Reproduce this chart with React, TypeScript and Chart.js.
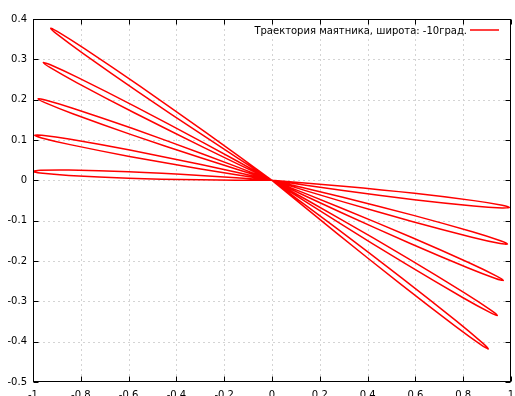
import React, { useEffect, useRef } from "react";
import { Chart, registerables } from "chart.js";

Chart.register(...registerables);

// ---- axis ticks ----
const xTickValues = [-1, -0.8, -0.6, -0.4, -0.2, 0, 0.2, 0.4, 0.6, 0.8, 1];
const xTickLabels = ["-1", "-0.8", "-0.6", "-0.4", "-0.2", "0", "0.2", "0.4", "0.6", "0.8", "1"];
const yTickValues = [-0.5, -0.4, -0.3, -0.2, -0.1, 0, 0.1, 0.2, 0.3, 0.4];
const yTickLabels = ["-0.5", "-0.4", "-0.3", "-0.2", "-0.1", "0", "0.1", "0.2", "0.3", "0.4"];

const legendLabel = "Траектория маятника, широта: -10град.";

// ---- trajectory, one swing (origin -> tip -> origin) per array ----
type P = [number, number];
const swing1: P[] = [[0, 0], [-0.3001, 0.0012], [-0.6002, 0.0052], [-0.8502, 0.012], [-0.9701, 0.0179], [-1.0, 0.022], [-0.9699, 0.0247], [-0.8499, 0.0254], [-0.5998, 0.0212], [-0.2999, 0.012]];
const swing2: P[] = [[0, 0], [0.2983, -0.0147], [0.5963, -0.0322], [0.8445, -0.0503], [0.9634, -0.0616], [0.993, -0.067], [0.963, -0.0684], [0.8436, -0.0637], [0.5953, -0.0482], [0.2975, -0.0255]];
const swing3: P[] = [[0, 0], [-0.2985, 0.0282], [-0.5967, 0.0593], [-0.8448, 0.0885], [-0.9636, 0.1052], [-0.993, 0.112], [-0.9628, 0.112], [-0.8433, 0.1019], [-0.5949, 0.0751], [-0.2973, 0.039]];
const swing4: P[] = [[0, 0], [0.2964, -0.042], [0.5923, -0.0869], [0.8384, -0.1277], [0.956, -0.1499], [0.985, -0.158], [0.955, -0.1567], [0.8362, -0.1409], [0.5897, -0.1027], [0.2946, -0.0528]];
const swing5: P[] = [[0, 0], [-0.2948, 0.0553], [-0.589, 0.1134], [-0.8336, 0.1651], [-0.9503, 0.1926], [-0.979, 0.202], [-0.9489, 0.1992], [-0.8308, 0.1783], [-0.5858, 0.129], [-0.2926, 0.0659]];
const swing6: P[] = [[0, 0], [0.2918, -0.0691], [0.5828, -0.1411], [0.8245, -0.2043], [0.9398, -0.2373], [0.968, -0.248], [0.9382, -0.2439], [0.8211, -0.2173], [0.5788, -0.1565], [0.289, -0.0797]];
const swing7: P[] = [[0, 0], [-0.2887, 0.0824], [-0.5765, 0.1676], [-0.8155, 0.2418], [-0.9293, 0.28], [-0.957, 0.292], [-0.9273, 0.2865], [-0.8115, 0.2546], [-0.5719, 0.1828], [-0.2855, 0.0928]];
const swing8: P[] = [[0, 0], [0.2847, -0.0954], [0.5685, -0.1935], [0.8038, -0.2785], [0.9158, -0.3218], [0.943, -0.335], [0.9136, -0.3282], [0.7994, -0.2911], [0.5631, -0.2085], [0.2811, -0.1056]];
const swing9: P[] = [[0, 0], [-0.2799, 0.1081], [-0.5586, 0.2188], [-0.7896, 0.3143], [-0.8995, 0.3626], [-0.926, 0.377], [-0.8969, 0.3689], [-0.7846, 0.3267], [-0.5526, 0.2336], [-0.2758, 0.1181]];
const swing10: P[] = [[0, 0], [0.2738, -0.1205], [0.5464, -0.2436], [0.7721, -0.3492], [0.8793, -0.4024], [0.905, -0.418], [0.8765, -0.4086], [0.7665, -0.3614], [0.5397, -0.258], [0.2692, -0.1303], [0, 0]];

const swings = [swing1, swing2, swing3, swing4, swing5, swing6, swing7, swing8, swing9, swing10];

const FONT = "'DejaVu Sans', sans-serif";

const gnuplotFrame = {
  id: "gnuplotFrame",
  beforeDatasetsDraw(chart: any) {
    const { ctx, chartArea: a, scales } = chart;
    const xs = scales.x;
    const ys = scales.y;
    ctx.save();
    ctx.strokeStyle = "#d4d4d4";
    ctx.lineWidth = 1;
    ctx.setLineDash([2, 3]);
    xTickValues.forEach((v) => {
      const px = Math.round(xs.getPixelForValue(v)) + 0.5;
      if (px <= a.left + 1 || px >= a.right - 1) return;
      ctx.beginPath();
      ctx.moveTo(px, a.top);
      ctx.lineTo(px, a.bottom);
      ctx.stroke();
    });
    yTickValues.forEach((v) => {
      const py = Math.round(ys.getPixelForValue(v)) + 0.5;
      if (py <= a.top + 1 || py >= a.bottom - 1) return;
      ctx.beginPath();
      ctx.moveTo(a.left, py);
      ctx.lineTo(a.right, py);
      ctx.stroke();
    });
    ctx.restore();
  },
  afterDatasetsDraw(chart: any) {
    const { ctx, chartArea: a, scales } = chart;
    const xs = scales.x;
    const ys = scales.y;
    const L = Math.round(a.left) + 0.5;
    const R = Math.round(a.right) - 0.5;
    const T = Math.round(a.top) + 0.5;
    const B = Math.round(a.bottom) - 0.5;
    ctx.save();
    ctx.setLineDash([]);
    ctx.strokeStyle = "#000";
    ctx.lineWidth = 1;
    ctx.strokeRect(L, T, R - L, B - T);
    const tl = 5;
    xTickValues.forEach((v) => {
      const px = Math.round(xs.getPixelForValue(v)) + 0.5;
      ctx.beginPath();
      ctx.moveTo(px, B);
      ctx.lineTo(px, B - tl);
      ctx.moveTo(px, T);
      ctx.lineTo(px, T + tl);
      ctx.stroke();
    });
    yTickValues.forEach((v) => {
      const py = Math.round(ys.getPixelForValue(v)) + 0.5;
      ctx.beginPath();
      ctx.moveTo(L, py);
      ctx.lineTo(L + tl, py);
      ctx.moveTo(R, py);
      ctx.lineTo(R - tl, py);
      ctx.stroke();
    });
    // key
    ctx.font = `10px ${FONT}`;
    ctx.fillStyle = "#000";
    ctx.textAlign = "right";
    ctx.textBaseline = "middle";
    ctx.fillText(legendLabel, a.right - 44, a.top + 12);
    ctx.strokeStyle = "#ff0000";
    ctx.lineWidth = 1.5;
    ctx.beginPath();
    ctx.moveTo(a.right - 41, a.top + 11);
    ctx.lineTo(a.right - 12, a.top + 11);
    ctx.stroke();
    ctx.restore();
  },
};

export default function App() {
  const ref = useRef<HTMLCanvasElement | null>(null);
  useEffect(() => {
    if (!ref.current) return;
    const data = [...swings.flat()].map(([x, y]) => ({ x, y }));
    const chart = new Chart(ref.current, {
      type: "scatter",
      data: {
        datasets: [
          {
            label: legendLabel,
            data,
            showLine: true,
            borderColor: "#ff0000",
            backgroundColor: "#ff0000",
            borderWidth: 1.5,
            pointRadius: 0,
            tension: 0.3,
            fill: false,
          },
        ],
      },
      options: {
        responsive: false,
        animation: false,
        events: [],
        layout: { padding: { left: 0, top: 19, right: 4, bottom: 0 } },
        plugins: { legend: { display: false }, tooltip: { enabled: false } },
        scales: {
          x: {
            type: "linear",
            min: -1,
            max: 1,
            grid: { display: false, drawTicks: false },
            border: { display: false },
            afterBuildTicks: (s: any) => {
              s.ticks = xTickValues.map((v) => ({ value: v }));
            },
            afterFit: (s: any) => {
              s.height = 14;
              s.paddingLeft = 0;
              s.paddingRight = 0;
            },
            ticks: {
              autoSkip: false,
              maxRotation: 0,
              padding: 7,
              color: "#000",
              font: { family: FONT, size: 10 },
              callback: (_v: any, i: number) => xTickLabels[i],
            },
          },
          y: {
            type: "linear",
            min: -0.5,
            max: 0.4,
            grid: { display: false, drawTicks: false },
            border: { display: false },
            afterBuildTicks: (s: any) => {
              s.ticks = yTickValues.map((v) => ({ value: v }));
            },
            afterFit: (s: any) => {
              s.width = 33;
              s.paddingTop = 0;
              s.paddingBottom = 0;
            },
            ticks: {
              autoSkip: false,
              padding: 6,
              color: "#000",
              font: { family: FONT, size: 10 },
              callback: (_v: any, i: number) => yTickLabels[i],
            },
          },
        },
      },
      plugins: [gnuplotFrame],
    });
    return () => chart.destroy();
  }, []);
  return (
    <div style={{ position: "absolute", left: 0, top: 0, width: 515, height: 396, background: "#fff" }}>
      <canvas ref={ref} width={515} height={396} />
    </div>
  );
}
